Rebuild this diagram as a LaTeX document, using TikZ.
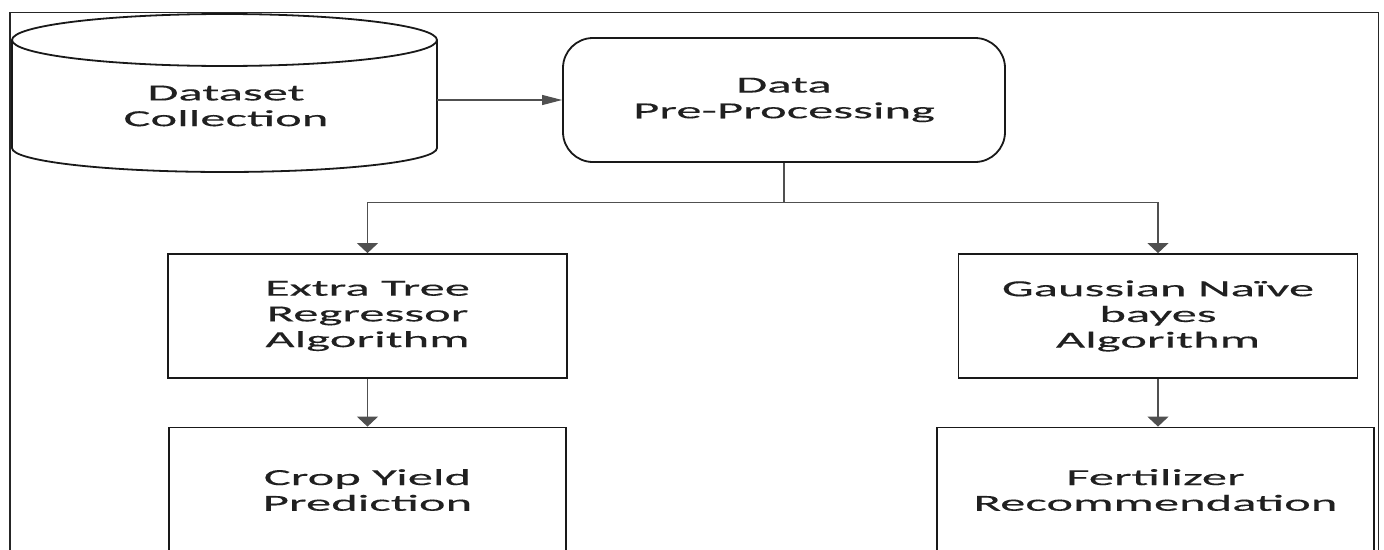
\documentclass[tikz,border=0pt]{standalone}
\usepackage{fontspec}
\newfontfamily\boxfont[FakeStretch=2.2,FakeBold=0.25]{Carlito}
\usetikzlibrary{arrows.meta}
\definecolor{txt}{HTML}{202020}
\definecolor{conn}{HTML}{505050}
\begin{document}
\begin{tikzpicture}[x=1pt,y=-1pt,
  boxline/.style={draw=black!90, line width=1.8pt},
  box/.style={boxline, rectangle, inner sep=0pt, align=center, text=txt,
    font=\boxfont\fontsize{23pt}{25.7pt}\selectfont},
  lbl/.style={inner sep=0pt, align=center, text=txt,
    font=\boxfont\fontsize{23pt}{25.7pt}\selectfont},
  vconn/.style={draw=conn, line width=1.1pt, -{Triangle[length=10pt,width=21pt]}},
  hconn/.style={draw=conn, line width=1.1pt, -{Triangle[length=20pt,width=10pt]}},
  frameline/.style={draw=black!85, line width=1.8pt},
]
\useasboundingbox (0,0) rectangle (1384,549);
\clip (0,0) rectangle (1384,549);
\fill[white] (0,0) rectangle (1384,549);

% outer frame (open at the bottom edge of the picture)
\draw[frameline] (10,560) -- (10,12.5) -- (1378.5,12.5) -- (1378.5,560);

% dataset cylinder
\draw[boxline, fill=white] (12,40) -- (12,148)
  arc[start angle=180, end angle=360, x radius=212.5pt, y radius=24pt] -- (437,40);
\draw[boxline] (224.5,40) ellipse [x radius=212.5pt, y radius=26pt];
\node[lbl] (ds) at (226,106) {Dataset\\Collection};
\coordinate (dsE) at (437,100);

% data pre-processing
\node[box, rounded corners=30pt, minimum width=442pt, minimum height=124pt]
  (dp) at (784,100) {Data\\Pre-Processing};

% algorithms
\node[box, minimum width=399pt, minimum height=124pt] (et) at (367.5,316) {Extra Tree\\Regressor\\Algorithm};
\node[box, minimum width=399pt, minimum height=124pt] (gn) at (1158,316) {Gaussian Naïve\\bayes\\Algorithm};

% outputs
\node[box, minimum width=397pt, minimum height=125pt] (cy) at (367.5,490) {Crop Yield\\Prediction};
\node[box, minimum width=437pt, minimum height=125pt] (fr) at (1155.5,490) {Fertilizer\\Recommendation};

% connectors
\draw[hconn] (dsE) -- (dp.west);
\draw[draw=conn, line width=1.1pt] (dp.south) -- ++(0,40) coordinate (split);
\draw[vconn] (split) -| (et.north);
\draw[vconn] (split) -| (gn.north);
\draw[vconn] (et.south) -- (et.south |- cy.north);
\draw[vconn] (gn.south) -- (gn.south |- fr.north);
\end{tikzpicture}
\end{document}
